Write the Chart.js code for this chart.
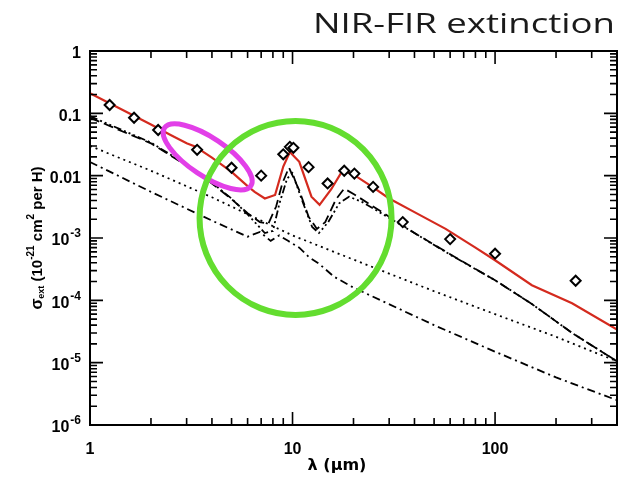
<!DOCTYPE html>
<html>
<head>
<meta charset="utf-8">
<script src="https://cdn.jsdelivr.net/npm/chart.js@4.4.0/dist/chart.umd.min.js"></script>
<style>
  html, body { margin: 0; padding: 0; background: #fff; }
</style>
</head>
<body>
<canvas id="grafico" width="624" height="482"></canvas>
<script>
// modelo total (linha vermelha)
const totalWl  = [1, 1.5, 2, 2.5, 3, 3.3, 3.5, 4, 5, 6, 6.5, 7.3, 8.2, 9.0, 9.7, 10.8, 12.4, 13.6, 15.5, 17.7, 20.2, 25, 30, 40, 57, 80, 100, 152, 240, 400];
const totalVal = [0.21, 0.107, 0.066, 0.045, 0.033, 0.0295, 0.026, 0.0195, 0.0115, 0.0068, 0.0055, 0.0043, 0.0049, 0.014, 0.024, 0.0167, 0.0046, 0.0034, 0.006, 0.0123, 0.0102, 0.0065, 0.0043, 0.0026, 0.0014, 0.0007, 0.00044, 0.000175, 0.00009, 0.000034];

// observações (losangos)
const obsWl  = [1.25, 1.65, 2.17, 3.38, 5.0, 7.0, 9.0, 9.7, 10.1, 12.0, 14.9, 18, 20.2, 25, 35, 60, 100, 250];
const obsVal = [0.136, 0.085, 0.054, 0.026, 0.0134, 0.010, 0.022, 0.029, 0.028, 0.0137, 0.0075, 0.012, 0.0108, 0.0066, 0.0018, 0.00096, 0.00056, 0.000206];

// componente tracejada
const silWl  = [1, 2, 3, 4, 5, 6, 6.9, 7.6, 8.3, 8.9, 9.6, 10.8, 12, 13.2, 14.5, 16.4, 18, 20.2, 25, 30, 40, 60, 100, 150, 240, 400];
const silVal = [0.085, 0.033, 0.0145, 0.0075, 0.0042, 0.0025, 0.0018, 0.0017, 0.0032, 0.0075, 0.0135, 0.0058, 0.0022, 0.0014, 0.0018, 0.0042, 0.0062, 0.005, 0.0032, 0.0022, 0.0012, 0.00055, 0.00021, 0.00009, 0.00003, 0.0000105];

// componente traço-ponto-ponto
const sil2Wl  = [1, 2, 3, 4, 5, 6, 7.3, 8, 8.6, 9.4, 10, 11, 12.5, 13.5, 15, 17, 19, 22, 30, 40, 60, 100, 150, 240, 400];
const sil2Val = [0.09, 0.034, 0.015, 0.0077, 0.0043, 0.0024, 0.0012, 0.0013, 0.0035, 0.009, 0.011, 0.0045, 0.0015, 0.0012, 0.0018, 0.0036, 0.0046, 0.0038, 0.0021, 0.0012, 0.00054, 0.00021, 0.00009, 0.00003, 0.0000105];

// componente pontilhada
const carbWl  = [1, 2, 4, 7, 10, 20, 50, 100, 200, 400];
const carbVal = [0.03, 0.012, 0.0045, 0.0019, 0.0011, 0.00045, 0.00014, 0.00006, 0.000026, 0.0000105];

// componente traço-ponto
const pahWl  = [1, 2, 4, 6, 6.9, 7.8, 8.6, 9.5, 10.8, 12, 13.6, 16, 20, 50, 100, 200, 400];
const pahVal = [0.0166, 0.0055, 0.0019, 0.00105, 0.00125, 0.0009, 0.0011, 0.0009, 0.0007, 0.0005, 0.00038, 0.00024, 0.00016, 0.00004, 0.000015, 0.0000058, 0.0000025];

const xTicks = [1, 10, 100];
const xTickLabels = ['1', '10', '100'];
const yTicks = [1, 0.1, 0.01, 1e-3, 1e-4, 1e-5, 1e-6];
const yTickBase = ['1', '0.1', '0.01', '10', '10', '10', '10'];
const yTickExp  = ['', '', '', '-3', '-4', '-5', '-6'];

function pontos(wl, val) {
  return wl.map((x, i) => ({ x: x, y: val[i] }));
}

function linha(wl, val, dash, cor, largura) {
  return {
    data: pontos(wl, val),
    borderColor: cor || '#000',
    borderWidth: largura || 1.8,
    borderDash: dash,
    pointRadius: 0,
    fill: false,
    tension: 0
  };
}

const molduraPlugin = {
  id: 'moldura',
  afterDraw(chart) {
    const ctx = chart.ctx;
    const a = chart.chartArea;
    const sx = chart.scales.x, sy = chart.scales.y;
    ctx.save();
    ctx.strokeStyle = '#000';
    ctx.fillStyle = '#000';

    // ticks para dentro nos quatro lados
    ctx.lineWidth = 1.6;
    ctx.beginPath();
    [1, 10, 100].forEach(d => {
      for (let k = 1; k <= 9; k++) {
        const v = k * d;
        if (v >= 400) continue;
        const px = sx.getPixelForValue(v);
        const len = k === 1 ? 13 : 7;
        ctx.moveTo(px, a.bottom); ctx.lineTo(px, a.bottom - len);
        ctx.moveTo(px, a.top); ctx.lineTo(px, a.top + len);
      }
    });
    [1e-6, 1e-5, 1e-4, 1e-3, 1e-2, 1e-1].forEach(d => {
      for (let k = 1; k <= 9; k++) {
        const py = sy.getPixelForValue(k * d);
        const len = k === 1 ? 13 : 7;
        ctx.moveTo(a.left, py); ctx.lineTo(a.left + len, py);
        ctx.moveTo(a.right, py); ctx.lineTo(a.right - len, py);
      }
    });
    ctx.stroke();

    ctx.lineWidth = 2;
    ctx.strokeRect(a.left, a.top, a.right - a.left, a.bottom - a.top);

    // rótulos dos eixos
    ctx.font = 'bold 16px "Liberation Sans", Arial, sans-serif';
    ctx.textAlign = 'center';
    ctx.textBaseline = 'middle';
    xTicks.forEach((v, i) => {
      ctx.fillText(xTickLabels[i], sx.getPixelForValue(v), a.bottom + 25);
    });

    yTicks.forEach((v, i) => {
      const py = sy.getPixelForValue(v) + 3;
      const right = a.left - 9;
      ctx.textAlign = 'left';
      ctx.font = 'bold 12px "Liberation Sans", Arial, sans-serif';
      const ew = yTickExp[i] ? ctx.measureText(yTickExp[i]).width + 1 : 0;
      ctx.font = 'bold 16px "Liberation Sans", Arial, sans-serif';
      const bw = ctx.measureText(yTickBase[i]).width;
      ctx.fillText(yTickBase[i], right - ew - bw, py);
      if (yTickExp[i]) {
        ctx.font = 'bold 12px "Liberation Sans", Arial, sans-serif';
        ctx.fillText(yTickExp[i], right - ew + 1, py - 7);
      }
    });

    ctx.textAlign = 'center';
    ctx.font = 'bold 16px "DejaVu Sans", sans-serif';
    ctx.fillText('\u03bb (\u03bcm)', 337, a.bottom + 41);

    // título do eixo y com índices
    ctx.save();
    ctx.translate(38, (a.top + a.bottom) / 2);
    ctx.rotate(-Math.PI / 2);
    const partes = [
      ['\u03c3', 16, 0], ['ext', 9, 4], [' (10', 15, 0], ['-21', 10, -7],
      [' cm', 15, 0], ['2', 10, -7], [' per H)', 15, 0]
    ];
    let total = 0;
    partes.forEach(p => {
      ctx.font = 'bold ' + p[1] + 'px "Liberation Sans", Arial, sans-serif';
      total += ctx.measureText(p[0]).width;
    });
    let cx = -total / 2;
    ctx.textAlign = 'left';
    partes.forEach(p => {
      ctx.font = 'bold ' + p[1] + 'px "Liberation Sans", Arial, sans-serif';
      ctx.fillText(p[0], cx, p[2]);
      cx += ctx.measureText(p[0]).width;
    });
    ctx.restore();

    // elipses de destaque
    ctx.lineWidth = 5;
    ctx.strokeStyle = '#e23fe8';
    ctx.beginPath();
    ctx.ellipse(sx.getPixelForValue(3.81), sy.getPixelForValue(0.02), 52, 19, 0.59, 0, Math.PI * 2);
    ctx.stroke();

    ctx.lineWidth = 6;
    ctx.strokeStyle = '#63dd2f';
    ctx.beginPath();
    ctx.ellipse(sx.getPixelForValue(10.35), sy.getPixelForValue(0.0021), 96, 97, 0, 0, Math.PI * 2);
    ctx.stroke();

    // título
    ctx.fillStyle = '#1a1a1a';
    ctx.font = '400 28px "Open Sans", Lato, sans-serif';
    ctx.textAlign = 'left';
    ctx.textBaseline = 'alphabetic';
    const t = 'NIR-FIR extinction';
    const w = ctx.measureText(t).width;
    ctx.save();
    ctx.translate(313, 33);
    ctx.scale(302 / w, 1);
    ctx.fillText(t, 0, 0);
    ctx.restore();

    ctx.restore();
  }
};

new Chart(document.getElementById('grafico'), {
  type: 'line',
  data: {
    datasets: [
      {
        data: pontos(obsWl, obsVal),
        showLine: false,
        pointStyle: 'rectRot',
        pointRadius: 5,
        pointBorderWidth: 2,
        pointBorderColor: '#000',
        pointBackgroundColor: '#fff',
        borderColor: '#000'
      },
      linha(totalWl, totalVal, [], '#d42a1e', 2.2),
      linha(silWl, silVal, [10, 5]),
      linha(sil2Wl, sil2Val, [8, 3, 2, 3, 2, 3, 2, 3]),
      linha(carbWl, carbVal, [2, 4]),
      linha(pahWl, pahVal, [8, 4, 2, 4])
    ]
  },
  options: {
    responsive: false,
    animation: false,
    layout: { padding: { left: 90, right: 7, top: 51, bottom: 57 } },
    plugins: { legend: { display: false }, tooltip: { enabled: false } },
    scales: {
      x: { type: 'logarithmic', min: 1, max: 400, display: false },
      y: { type: 'logarithmic', min: 1e-6, max: 1, display: false }
    }
  },
  plugins: [molduraPlugin]
});
</script>
</body>
</html>
